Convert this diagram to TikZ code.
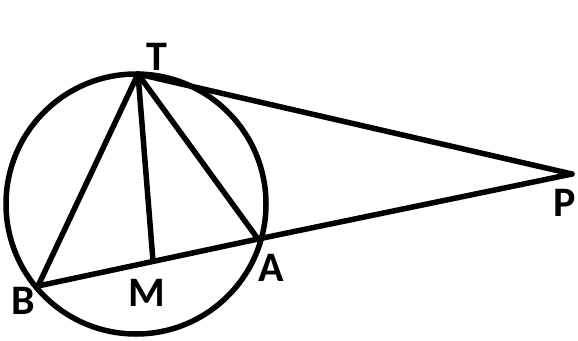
\documentclass[tikz,border=0pt]{standalone}
\usepackage{fontspec}
\setmainfont{Carlito}

\begin{document}
\begin{tikzpicture}[x=1pt,y=-1pt]
\tikzset{
  edge/.style={line width=5.5pt,line join=round,line cap=round},
  ptlabel/.style={font=\fontsize{42}{42}\selectfont\bfseries,inner sep=0pt}
}
\useasboundingbox (0,0) rectangle (578,340);
\coordinate (c) at (136,204);
\coordinate (T) at (138,74);
\coordinate (B) at (38,286);
\coordinate (A) at (258,239);
\coordinate (M) at (153,261);
\coordinate (P) at (572,174);
\draw[edge] (c) circle (130pt);
\draw[edge] (T) -- (P);
\draw[edge] (B) -- (A) -- (P);
\draw[edge] (T) -- (B);
\draw[edge] (T) -- (M);
\draw[edge] (T) -- (A);
\node[ptlabel] (l_T) at (157,57) {T};
\node[ptlabel] (l_B) at (23,301) {B};
\node[ptlabel] (l_M) at (147,293) {M};
\node[ptlabel] (l_A) at (271,268) {A};
\node[ptlabel] (l_P) at (565,203) {P};
\end{tikzpicture}
\end{document}
